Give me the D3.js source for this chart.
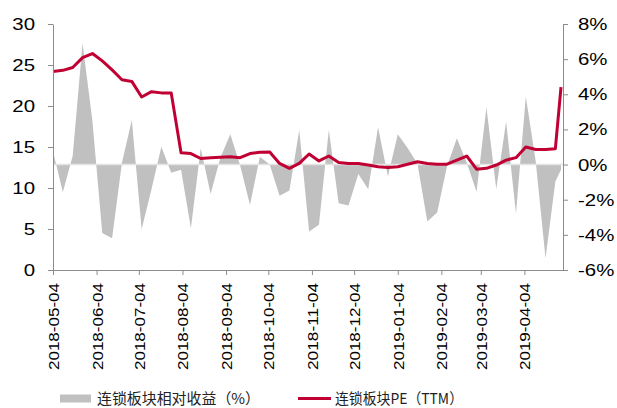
<!DOCTYPE html>
<html>
<head>
<meta charset="utf-8">
<script src="https://cdn.jsdelivr.net/npm/d3@7"></script>
<style>
  body { margin: 0; background: #fff; }
  svg { display: block; }
</style>
</head>
<body>
<svg id="chart" width="617" height="408"></svg>
<script>
// Weekly observation dates
const weeks = [
  "2018-05-04","2018-05-11","2018-05-18","2018-05-25",
  "2018-06-01","2018-06-08","2018-06-15","2018-06-22","2018-06-29",
  "2018-07-06","2018-07-13","2018-07-20","2018-07-27",
  "2018-08-03","2018-08-10","2018-08-17","2018-08-24","2018-08-31",
  "2018-09-07","2018-09-14","2018-09-21","2018-09-28",
  "2018-10-05","2018-10-12","2018-10-19","2018-10-26",
  "2018-11-02","2018-11-09","2018-11-16","2018-11-23","2018-11-30",
  "2018-12-07","2018-12-14","2018-12-21","2018-12-28",
  "2019-01-04","2019-01-11","2019-01-18","2019-01-25",
  "2019-02-01","2019-02-08","2019-02-15","2019-02-22",
  "2019-03-01","2019-03-08","2019-03-15","2019-03-22","2019-03-29",
  "2019-04-05","2019-04-12","2019-04-19","2019-04-26","2019-04-30"
];

// 连锁板块相对收益 (%), right axis
const relReturn = [
  0.74, -1.57, 0.5, 6.9, 2.5, -3.9, -4.2, 0.1, 2.54,
  -3.68, -1.4, 1.02, -0.46,
  -0.3, -3.62, 0.93, -1.67, 0.4,
  1.73, -0.05, -2.3, 0.45,
  0.0, -1.78, -1.48, 1.97,
  -3.81, -3.43, 1.97, -2.2, -2.33,
  -0.53, -1.4, 2.13, -0.68,
  1.73, 0.95, 0.05, -3.24,
  -2.73, -0.1, 1.5, 0.1,
  -1.54, 3.26, -1.4, 2.45, -2.8,
  3.87, 0.2, -5.33, -0.97, -0.3
];

// 连锁板块PE (TTM), left axis
const peTTM = [
  24.2, 24.35, 24.7, 25.9, 26.4, 25.5, 24.4, 23.2, 23.0,
  21.1, 21.75, 21.6, 21.6,
  14.3, 14.2, 13.6, 13.7, 13.75,
  13.8, 13.7, 14.2, 14.35,
  14.4, 13.0, 12.4, 13.0,
  14.15, 13.3, 13.9, 13.1, 13.0,
  13.0, 12.8, 12.6, 12.5,
  12.6, 12.9, 13.2, 13.0,
  12.9, 12.9, 13.4, 13.9,
  12.3, 12.4, 12.8, 13.4, 13.7,
  15.0, 14.7, 14.7, 14.8, 22.3
];

const monthTicks = [
  "2018-05-04","2018-06-04","2018-07-04","2018-08-04","2018-09-04","2018-10-04",
  "2018-11-04","2018-12-04","2019-01-04","2019-02-04","2019-03-04","2019-04-04"
];
const leftTicks = [0, 5, 10, 15, 20, 25, 30];
const rightTicks = [-6, -4, -2, 0, 2, 4, 6, 8];

const legendItems = ["连锁板块相对收益（%）", "连锁板块PE（TTM）"];

const parse = d3.timeParse("%Y-%m-%d");
const fmt = d3.timeFormat("%Y-%m-%d");

const svg = d3.select("#chart");
const box = { left: 53, right: 563, top: 24, bottom: 270 };
const axisColor = "#8c8c8c";
const red = "#c00033";
const grey = "#c0c0c0";
const labelFont = "'Liberation Sans', Arial, sans-serif";

const x = d3.scaleTime()
  .domain([parse(weeks[0]), parse(weeks[weeks.length - 1])])
  .range([box.left, 561]);
const yL = d3.scaleLinear().domain([0, 30]).range([box.bottom, box.top]);
const yR = d3.scaleLinear().domain([-6, 8]).range([box.bottom, box.top]);

const rows = weeks.map((w, i) => ({ date: parse(w), rel: relReturn[i], pe: peTTM[i] }));

// relative-return area, drawn against the percentage axis
svg.append("path")
  .datum(rows)
  .attr("fill", grey)
  .attr("d", d3.area()
    .x(d => x(d.date))
    .y0(yR(0))
    .y1(d => yR(d.rel)));

// zero baseline of the percentage axis
svg.append("line")
  .attr("x1", box.left).attr("x2", box.right)
  .attr("y1", yR(0)).attr("y2", yR(0))
  .attr("stroke", "#e4e4e4").attr("stroke-width", 1.5);

// PE line
svg.append("path")
  .datum(rows)
  .attr("fill", "none")
  .attr("stroke", red)
  .attr("stroke-width", 3)
  .attr("stroke-linejoin", "round")
  .attr("d", d3.line().x(d => x(d.date)).y(d => yL(d.pe)));

// stretch tick labels horizontally a little
function widen(sel, k) {
  sel.each(function () {
    const len = this.getComputedTextLength();
    d3.select(this).attr("textLength", len * k).attr("lengthAdjust", "spacingAndGlyphs");
  });
}

// left axis
const gL = svg.append("g")
  .attr("transform", `translate(${box.left},0)`)
  .call(d3.axisLeft(yL).tickValues(leftTicks).tickSize(5).tickSizeOuter(0).tickPadding(13));
gL.select(".domain").attr("stroke", axisColor);
gL.selectAll(".tick line").attr("stroke", axisColor);
gL.selectAll("text").attr("fill", "#000").style("font-family", labelFont).style("font-size", "17px");
widen(gL.selectAll("text"), 1.2);

// right axis
const gR = svg.append("g")
  .attr("transform", `translate(${box.right},0)`)
  .call(d3.axisRight(yR).tickValues(rightTicks).tickFormat(d => d + "%").tickSize(5).tickSizeOuter(0).tickPadding(10));
gR.select(".domain").attr("stroke", axisColor);
gR.selectAll(".tick line").attr("stroke", axisColor);
gR.selectAll("text").attr("fill", "#000").style("font-family", labelFont).style("font-size", "17px");
widen(gR.selectAll("text"), 1.2);

// bottom axis
svg.append("line")
  .attr("x1", box.left).attr("x2", box.right)
  .attr("y1", box.bottom + 0.5).attr("y2", box.bottom + 0.5)
  .attr("stroke", axisColor);
const gB = svg.append("g")
  .attr("transform", `translate(0,${box.bottom})`)
  .call(d3.axisBottom(x).tickValues(monthTicks.map(parse)).tickFormat(fmt).tickSize(5).tickSizeOuter(0));
gB.select(".domain").remove();
gB.selectAll(".tick line").attr("stroke", axisColor);
gB.selectAll("text")
  .attr("fill", "#000")
  .style("font-family", labelFont)
  .style("font-size", "15px")
  .attr("text-anchor", "end")
  .attr("transform", "rotate(-90)")
  .attr("x", -13)
  .attr("y", 0)
  .attr("dy", "0.36em")
  .attr("textLength", 87)
  .attr("lengthAdjust", "spacingAndGlyphs");

// legend
const lg = svg.append("g").style("font-family", "'Noto Sans CJK SC', sans-serif").style("font-size", "15px");
lg.append("rect").attr("x", 60).attr("y", 394.5).attr("width", 31).attr("height", 8).attr("fill", grey);
lg.append("text").attr("x", 97).attr("y", 404).attr("fill", "#222")
  .attr("textLength", 163).attr("lengthAdjust", "spacingAndGlyphs")
  .text(legendItems[0]);
lg.append("line").attr("x1", 298).attr("x2", 331).attr("y1", 398.5).attr("y2", 398.5)
  .attr("stroke", red).attr("stroke-width", 3);
lg.append("text").attr("x", 335).attr("y", 404).attr("fill", "#222")
  .attr("textLength", 128).attr("lengthAdjust", "spacingAndGlyphs")
  .text(legendItems[1]);
</script>
</body>
</html>
